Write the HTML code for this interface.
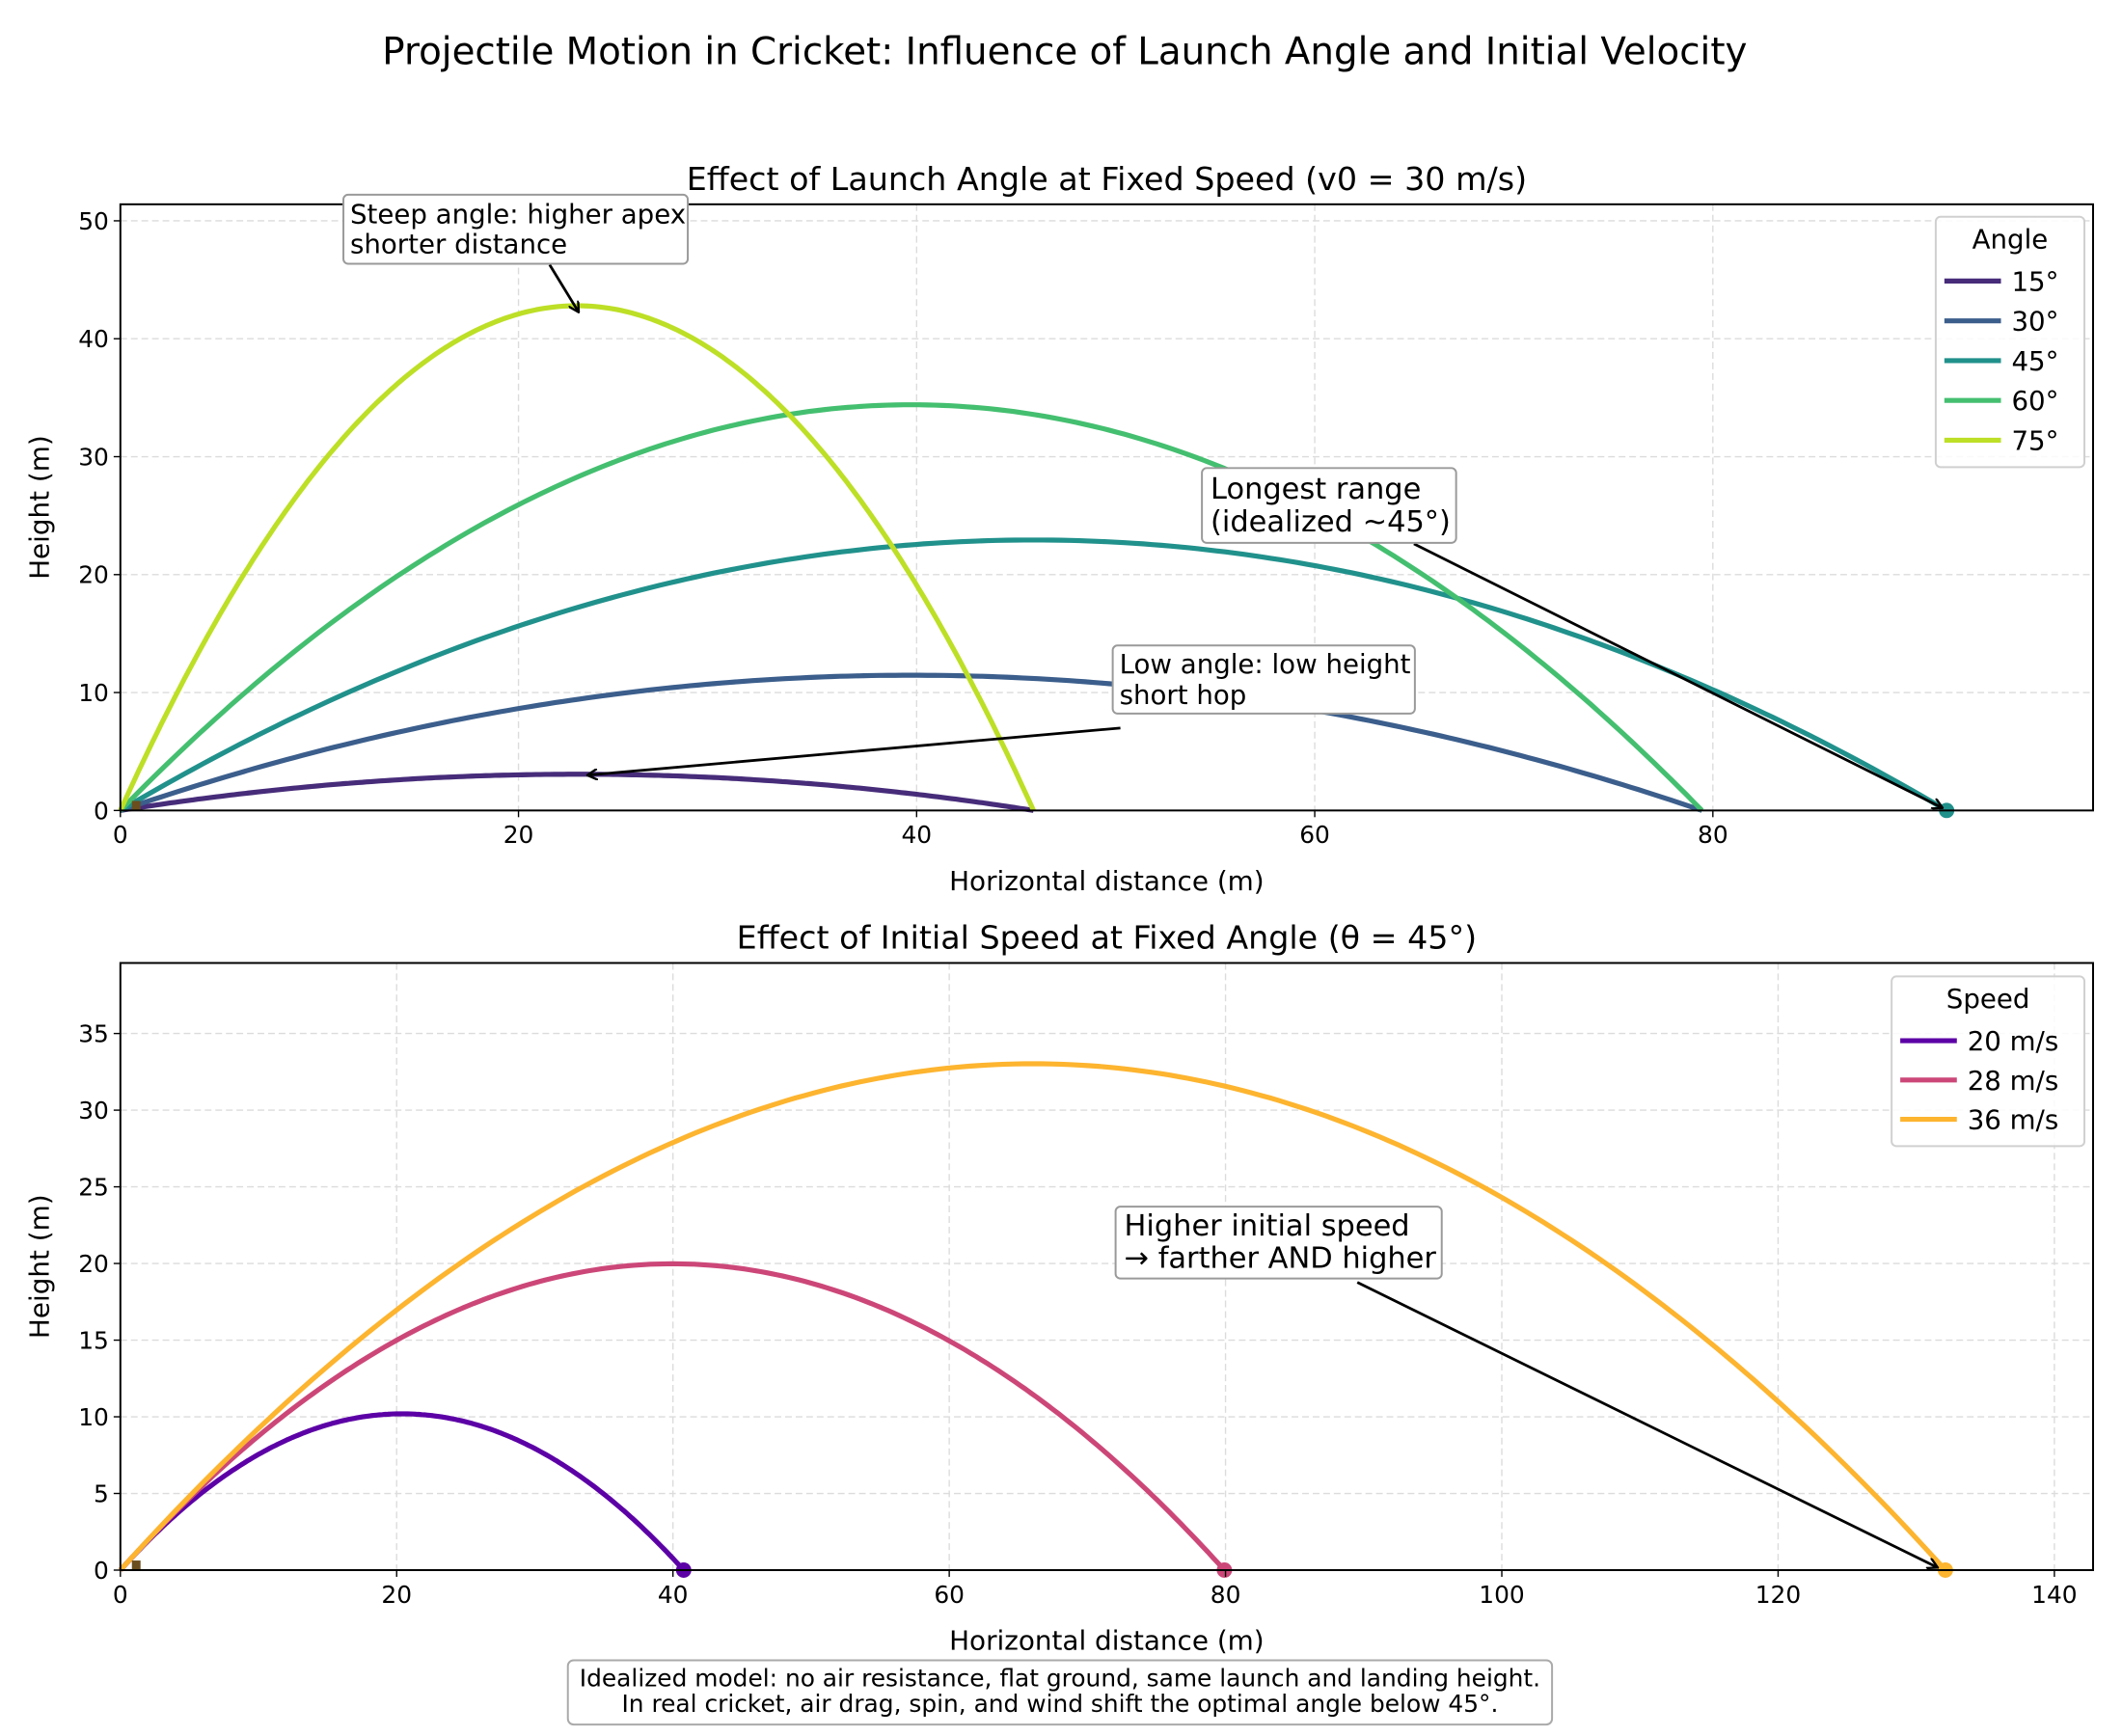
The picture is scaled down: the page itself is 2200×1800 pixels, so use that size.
<!DOCTYPE html>
<html><head><meta charset="utf-8">
<style>
html,body{margin:0;padding:0;background:#fff;}
svg{display:block;font-family:"DejaVu Sans","Liberation Sans",sans-serif;}
</style></head>
<body>
<svg width="2200" height="1800" viewBox="0 0 2200 1800" xmlns="http://www.w3.org/2000/svg">
<g id="chart" transform="scale(0.9945)">
<text x="1110" y="67" font-size="39" text-anchor="middle">Projectile Motion in Cricket: Influence of Launch Angle and Initial Velocity</text>
</g>
</svg>
<script>
const g = 9.81;
const v0Fixed = 30;
const angles = [15, 30, 45, 60, 75];
const angleLabels = ['15°', '30°', '45°', '60°', '75°'];
const angleColors = ['#472c7a', '#3b5e8c', '#21918c', '#44bf70', '#bddf26'];
const thetaFixed = 45;
const speeds = [20, 28, 36];
const speedLabels = ['20 m/s', '28 m/s', '36 m/s'];
const speedColors = ['#5c01a6', '#cc4778', '#fdb42f'];
const topXTicks = [0, 20, 40, 60, 80];
const topYTicks = [0, 10, 20, 30, 40, 50];
const botXTicks = [0, 20, 40, 60, 80, 100, 120, 140];
const botYTicks = [0, 5, 10, 15, 20, 25, 30, 35];

const NS = 'http://www.w3.org/2000/svg';
const svgRoot = document.getElementById('chart');
const LW = 5.2;
function mk(tag, attrs, parent, text) {
  const e = document.createElementNS(NS, tag);
  for (const k in attrs) e.setAttribute(k, attrs[k]);
  if (text !== undefined) e.textContent = text;
  (parent || svgRoot).appendChild(e);
  return e;
}
function traj(v, deg) {
  const r = deg * Math.PI / 180;
  const T = 2 * v * Math.sin(r) / g;
  const pts = [];
  for (let i = 0; i <= 200; i++) {
    const t = T * i / 200;
    pts.push([v * Math.cos(r) * t, Math.max(0, v * Math.sin(r) * t - 0.5 * g * t * t)]);
  }
  return pts;
}

function panel(cfg) {
  const L = 125.5, R = 2182, T = cfg.top, B = cfg.bottom;
  const sx = x => L + x / cfg.xmax * (R - L);
  const sy = y => B - y / cfg.ymax * (B - T);
  const grp = mk('g', {});
  
  
  cfg.xticks.forEach(v => {
    const ln = mk('line', {x1: sx(v), x2: sx(v), y1: T, y2: B, stroke: '#dcdcdc', 'stroke-width': 1.4, 'stroke-dasharray': '7,4'}, grp);
    
    
  });
  cfg.yticks.forEach(v => {
    const ln = mk('line', {x1: L, x2: R, y1: sy(v), y2: sy(v), stroke: '#dcdcdc', 'stroke-width': 1.4, 'stroke-dasharray': '7,4'}, grp);
    
    
  });
  cfg.series.forEach((s, i) => {
    const pts = traj(s.v, s.a);
    const p = mk('polyline', {points: pts.map(q => sx(q[0]).toFixed(1) + ',' + sy(q[1]).toFixed(1)).join(' '), fill: 'none', stroke: s.color, 'stroke-width': LW, 'stroke-linejoin': 'round'}, grp);
    
    
    if (s.dot) {
      const last = pts[pts.length - 1];
      const c = mk('circle', {cx: sx(last[0]), cy: sy(0), r: 8, fill: s.color}, grp);
      
      
    }
  });
  const st = mk('rect', {x: sx(0) + 12, y: B - 10, width: 9, height: 10, fill: '#6b4e1e'}, grp);
  
  
  const fr = mk('rect', {x: L, y: T, width: R - L, height: B - T, fill: 'none', stroke: '#000', 'stroke-width': 2}, grp);
  
  
  cfg.xticks.forEach(v => {
    mk('line', {x1: sx(v), x2: sx(v), y1: B, y2: B + 7, stroke: '#000', 'stroke-width': 1.4}, grp);
    const t = mk('text', {x: sx(v), y: B + 34, 'font-size': 25, 'text-anchor': 'middle'}, grp, String(v));
    
    
  });
  cfg.yticks.forEach(v => {
    mk('line', {x1: L - 7, x2: L, y1: sy(v), y2: sy(v), stroke: '#000', 'stroke-width': 1.4}, grp);
    const t = mk('text', {x: L - 12, y: sy(v) + 9, 'font-size': 25, 'text-anchor': 'end'}, grp, String(v));
    
    
  });
  const tt = mk('text', {x: (L + R) / 2, y: T - 15, 'font-size': 33.5, 'text-anchor': 'middle'}, grp, cfg.title);
  
  
  const xl = mk('text', {x: (L + R) / 2, y: B + 83, 'font-size': 28, 'text-anchor': 'middle'}, grp, 'Horizontal distance (m)');
  
  
  const yl = mk('text', {x: 0, y: 0, 'font-size': 28, 'text-anchor': 'middle', transform: 'translate(51,' + (T + B) / 2 + ') rotate(-90)'}, grp, 'Height (m)');
  
  
  const lg = cfg.legend;
  const lgG = mk('g', {}, grp);
  
  
  mk('rect', {x: lg.x, y: lg.y, width: lg.w, height: lg.h, rx: 5, fill: '#fff', 'fill-opacity': 0.85, stroke: '#d0d0d0', 'stroke-width': 2}, lgG);
  mk('text', {x: lg.x + lg.w / 2, y: lg.y + 33, 'font-size': 27.8, 'text-anchor': 'middle'}, lgG, lg.title);
  cfg.series.forEach((s, i) => {
    const yy = lg.y + 67 + i * lg.step;
    const e = mk('g', {}, lgG);
    
    
    mk('line', {x1: lg.x + 9, x2: lg.x + 68, y1: yy, y2: yy, stroke: s.color, 'stroke-width': LW}, e);
    mk('text', {x: lg.x + 79, y: yy + 10, 'font-size': 27.8}, e, s.label);
  });
  return {sx, sy, grp};
}

const topPanel = panel({name: 'launch-angle-panel', top: 213, bottom: 845, xmax: 99.1, ymax: 51.4,
  xticks: topXTicks, yticks: topYTicks, title: 'Effect of Launch Angle at Fixed Speed (v0 = 30 m/s)',
  series: angles.map((a, i) => ({v: v0Fixed, a: a, color: angleColors[i], label: angleLabels[i], dot: a === 45})),
  legend: {x: 2018, y: 226, w: 155, h: 261, title: 'Angle', step: 41.5}});
const botPanel = panel({name: 'initial-speed-panel', top: 1004, bottom: 1637, xmax: 142.8, ymax: 39.6,
  xticks: botXTicks, yticks: botYTicks, title: 'Effect of Initial Speed at Fixed Angle (θ = 45°)',
  series: speeds.map((v, i) => ({v: v, a: thetaFixed, color: speedColors[i], label: speedLabels[i], dot: true})),
  legend: {x: 1972, y: 1018, w: 201, h: 177, title: 'Speed', step: 41}});

const defs = mk('defs', {});
const mkr = mk('marker', {id: 'ah', markerWidth: 12, markerHeight: 12, refX: 10, refY: 6, orient: 'auto', markerUnits: 'userSpaceOnUse'}, defs);
mk('path', {d: 'M0,0 L11,6 L0,12', fill: 'none', stroke: '#000', 'stroke-width': 2.4}, mkr);

function note(name, box, lines, fs, baselines, tx, arrow) {
  const grp = mk('g', {});
  
  
  mk('line', {x1: arrow[0], y1: arrow[1], x2: arrow[2], y2: arrow[3], stroke: '#000', 'stroke-width': 2.8, 'marker-end': 'url(#ah)'}, grp);
  mk('rect', {x: box[0], y: box[1], width: box[2], height: box[3], rx: 5, fill: '#fff', stroke: '#9a9a9a', 'stroke-width': 2}, grp);
  lines.forEach((l, i) => mk('text', {x: tx, y: baselines[i], 'font-size': fs}, grp, l));
}
note('steep-angle-annotation', [358, 203, 359, 72], ['Steep angle: higher apex', 'shorter distance'], 27.8, [233, 264], 365,
  [573, 276, topPanel.sx(23), topPanel.sy(42.8) + 6]);
note('longest-range-annotation', [1253, 488, 265, 78], ['Longest range', '(idealized ~45°)'], 30.6, [520, 554], 1262,
  [1474, 567, topPanel.sx(91.5), topPanel.sy(0) - 3]);
note('low-angle-annotation', [1160, 673, 315, 71], ['Low angle: low height', 'short hop'], 27.8, [702, 734], 1167,
  [1168, 759, topPanel.sx(23.5), topPanel.sy(3.0)]);
note('higher-speed-annotation', [1163, 1258, 340, 75], ['Higher initial speed', '→ farther AND higher'], 30.6, [1288, 1322], 1172,
  [1415, 1337, botPanel.sx(131.5), botPanel.sy(0) - 3]);

const fn = mk('g', {});


mk('rect', {x: 592, y: 1731, width: 1026, height: 67, rx: 6, fill: '#fff', stroke: '#aaa', 'stroke-width': 2}, fn);
mk('text', {x: 1105, y: 1758, 'font-size': 25, 'text-anchor': 'middle'}, fn, 'Idealized model: no air resistance, flat ground, same launch and landing height.');
mk('text', {x: 1105, y: 1785, 'font-size': 25, 'text-anchor': 'middle'}, fn, 'In real cricket, air drag, spin, and wind shift the optimal angle below 45°.');
</script>
</body></html>
